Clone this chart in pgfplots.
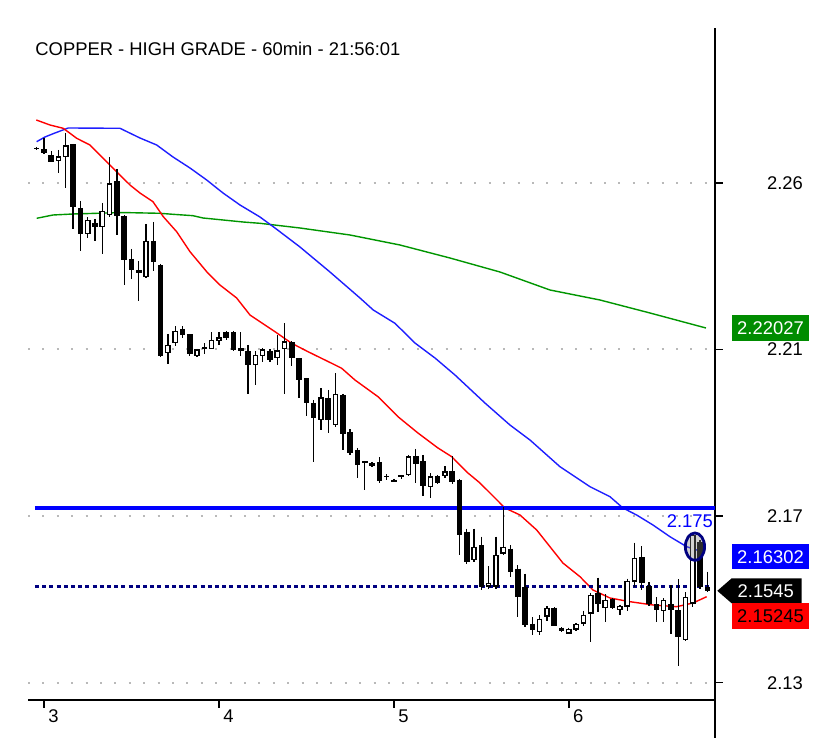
\documentclass[border=0pt]{standalone}
\usepackage{pgfplots}
\pgfplotsset{compat=1.18}
\usepackage{pgfplotstable}
\usepackage{fontspec}
\setmainfont{Liberation Sans}
\usetikzlibrary{backgrounds}
\definecolor{maRed}{RGB}{255,0,0}
\definecolor{maBlue}{RGB}{30,30,255}
\definecolor{maGreen}{RGB}{0,150,0}
\definecolor{boxGreen}{RGB}{0,140,0}
\definecolor{navyc}{RGB}{0,0,128}
\definecolor{lineBlue}{RGB}{0,0,255}
\definecolor{gridGray}{RGB}{185,185,185}

\pgfplotstableread{
i O H L C
0 2.26860 2.26886 2.26808 2.26821
1 2.26834 2.27120 2.26691 2.26717
2 2.26678 2.26782 2.26483 2.26496
3 2.26509 2.26808 2.26210 2.26639
4 2.26613 2.27250 2.25820 2.26925
5 2.26951 2.26964 2.24754 2.25313
6 2.25287 2.25482 2.24182 2.24624
7 2.24624 2.25053 2.24520 2.24988
8 2.24910 2.25014 2.24429 2.24793
9 2.24793 2.25430 2.24104 2.25222
10 2.25105 2.26613 2.25066 2.25937
11 2.25989 2.26314 2.24598 2.25079
12 2.25092 2.25105 2.23298 2.23948
13 2.23974 2.24234 2.23454 2.23688
14 2.23688 2.23922 2.22882 2.23597
15 2.23493 2.24884 2.23467 2.24442
16 2.24442 2.24936 2.23662 2.23883
17 2.23805 2.23844 2.21426 2.21439
18 2.21517 2.22024 2.21244 2.21738
19 2.21777 2.22219 2.21699 2.22102
20 2.22154 2.22219 2.21907 2.21985
21 2.22011 2.22024 2.21439 2.21491
22 2.21439 2.21634 2.21426 2.21621
23 2.21634 2.21777 2.21491 2.21686
24 2.21634 2.22063 2.21621 2.21868
25 2.21829 2.22063 2.21738 2.21933
26 2.22063 2.22102 2.21868 2.21907
27 2.22063 2.22102 2.21582 2.21595
28 2.21647 2.22063 2.21439 2.21582
29 2.21582 2.21738 2.20451 2.21205
30 2.21205 2.21569 2.20698 2.21478
31 2.21439 2.21660 2.21283 2.21621
32 2.21569 2.21621 2.21283 2.21335
33 2.21387 2.21998 2.21218 2.21595
34 2.21621 2.22297 2.20464 2.21829
35 2.21803 2.21829 2.21179 2.21387
36 2.21387 2.21400 2.20347 2.20828
37 2.20867 2.20880 2.19892 2.20217
38 2.20217 2.20308 2.18683 2.19827
39 2.19788 2.20607 2.19528 2.20373
40 2.20347 2.20568 2.19450 2.19788
41 2.19658 2.20997 2.19606 2.20464
42 2.20438 2.20464 2.19008 2.19424
43 2.19463 2.19541 2.18878 2.18917
44 2.19008 2.19060 2.18267 2.18618
45 2.18709 2.18722 2.17968 2.18657
46 2.18657 2.18696 2.18553 2.18592
47 2.18696 2.18813 2.18137 2.18189
48 2.18293 2.18371 2.18215 2.18319
49 2.18228 2.18254 2.18163 2.18176
50 2.18345 2.18358 2.18254 2.18306
51 2.18358 2.18878 2.18332 2.18839
52 2.18839 2.19034 2.18137 2.18644
53 2.18709 2.18878 2.17799 2.18059
54 2.18046 2.18397 2.17747 2.18319
55 2.18319 2.18358 2.18111 2.18150
56 2.18319 2.18579 2.18267 2.18449
57 2.18449 2.18839 2.18124 2.18176
58 2.18228 2.18254 2.16278 2.16798
59 2.16889 2.16967 2.16057 2.16109
60 2.16148 2.16967 2.16096 2.16499
61 2.16538 2.16759 2.15368 2.15459
62 2.15459 2.15992 2.15407 2.15563
63 2.15459 2.16759 2.15407 2.16278
64 2.16317 2.17526 2.16278 2.16499
65 2.16447 2.16538 2.15706 2.15849
66 2.15927 2.16018 2.14679 2.15199
67 2.15459 2.15797 2.14406 2.14458
68 2.14497 2.14666 2.14198 2.14328
69 2.14276 2.14718 2.14198 2.14627
70 2.14679 2.14952 2.14562 2.14913
71 2.14913 2.14926 2.14432 2.14445
72 2.14393 2.14406 2.14289 2.14302
73 2.14237 2.14393 2.14224 2.14367
74 2.14341 2.14510 2.14315 2.14484
75 2.14497 2.14835 2.14432 2.14731
76 2.14757 2.15303 2.14029 2.15238
77 2.15303 2.15693 2.14796 2.15004
78 2.14900 2.15264 2.14536 2.15108
79 2.15147 2.15173 2.14887 2.14913
80 2.14848 2.14991 2.14718 2.14952
81 2.14939 2.15667 2.14822 2.15615
82 2.15589 2.16603 2.15459 2.16213
83 2.16226 2.16512 2.15368 2.15550
84 2.15472 2.15576 2.14952 2.15004
85 2.15004 2.15186 2.14549 2.14861
86 2.14822 2.15160 2.14549 2.15108
87 2.15004 2.15498 2.14224 2.14861
88 2.14848 2.15654 2.13392 2.14159
89 2.14068 2.15316 2.14042 2.15186
90 2.15017 2.16850 2.14939 2.16798
91 2.16616 2.16668 2.15394 2.15446
92 2.15446 2.15849 2.15316 2.15355
}\candles

\begin{document}
\begin{tikzpicture}[font=\fontsize{9.2}{11}\selectfont]
\begin{axis}[
  scale only axis, width=343.5pt, height=336pt,
  xmin=-1.19, xmax=93.05, ymin=2.12508, ymax=2.2998,
  axis x line*=bottom, axis y line*=right,
  axis line style={black, line width=0.8pt},
  clip mode=individual,
  tick align=outside, major tick length=3.5pt,
  tick style={black, line width=0.7pt},
  xtick={1,25,49,73}, xticklabels={3,4,5,6},
  ytick={2.12958,2.17292,2.21621,2.2595}, yticklabels={2.13,2.17,2.21,2.26},
  tick label style={font=\fontsize{9.2}{11}\selectfont},
  xticklabel style={anchor=north west, inner sep=0pt, xshift=2pt, yshift=-1pt},
  yticklabel style={anchor=west, xshift=19pt},
  ymajorgrids, xmajorgrids=false,
  grid style={gridGray, line width=1pt, dash pattern=on 1pt off 6.2pt},
]
\coordinate (SW) at (rel axis cs:0,0);
\coordinate (NE) at (rel axis cs:1,1);

% moving averages
\addplot[maGreen, line width=0.7pt] coordinates {
(0,2.25032) (2.24,2.25118) (4.98,2.25144) (8.23,2.25162) (10.97,2.25178) (12.80,2.25178)
(16.91,2.25162) (18.70,2.25136) (21.44,2.25100) (22.81,2.25040) (25.56,2.24988) (28.30,2.24936)
(30.63,2.24902) (36.12,2.24780) (42.98,2.24598) (49.83,2.24338) (56.69,2.24000) (63.55,2.23636)
(70.41,2.23168) (77.27,2.22908) (84.13,2.22570) (91.81,2.22180)};
\addplot[maBlue, line width=0.7pt] coordinates {
(0,2.27024) (1.14,2.27146) (2.51,2.27250) (4.33,2.27380) (11.43,2.27372) (14.17,2.27120)
(16.46,2.26938) (18.70,2.26626) (21.03,2.26340) (23.32,2.26028) (25.56,2.25690) (27.89,2.25378)
(30.63,2.25066) (32.69,2.24780) (36.12,2.24286) (40.23,2.23636) (44.35,2.22960) (46.17,2.22648)
(49.15,2.22302) (51.89,2.21790) (54.64,2.21400) (57.38,2.20958) (61.49,2.20230) (64.92,2.19658)
(67.67,2.19268) (71.78,2.18574) (75.90,2.18054) (78.64,2.17794) (80.42,2.17500) (82.30,2.17318)
(84.54,2.17058) (86.87,2.16754) (89.16,2.16494) (90.99,2.16382)};
\addplot[maRed, line width=0.7pt] coordinates {
(-0.05,2.27588) (1.82,2.27458) (3.65,2.27372) (5.49,2.27112) (7.31,2.26938) (9.09,2.26600)
(10.97,2.26244) (12.80,2.25898) (14.17,2.25690) (15.95,2.25464) (17.37,2.25074) (19.20,2.24684)
(21.03,2.24164) (23.32,2.23644) (25.14,2.23298) (27.43,2.22960) (29.26,2.22518) (30.63,2.22344)
(32.69,2.22084) (34.98,2.21782) (37.22,2.21564) (40.47,2.21262) (41.84,2.21132) (43.66,2.20828)
(46.82,2.20394) (49.56,2.19874) (52.30,2.19450) (55.05,2.19060) (56.93,2.18834) (59.16,2.18410)
(60.81,2.18150) (62.46,2.17838) (64.24,2.17500) (66.30,2.17318) (68.59,2.16928) (70.41,2.16494)
(72.19,2.16070) (74.53,2.15714) (76.31,2.15368) (78.64,2.15160) (81.39,2.15064) (84.54,2.14978)
(87.79,2.14934) (90.03,2.15030) (91.91,2.15194)};

% horizontal levels
\addplot[lineBlue, line width=1.6pt] coordinates {(-0.23,2.175) (93.05,2.175)};
\addplot[navyc, line width=1.5pt, dash pattern=on 2pt off 1.6pt] coordinates {(-0.23,2.1545) (92.2,2.1545)};

% candles: wicks, bodies, hollow fills
\addplot[forget plot, draw=none, mark=none,
  error bars/.cd, y dir=minus, y explicit, error mark=none,
  error bar style={draw=black, line width=0.65pt}]
  table[x=i, y=H, y error expr=\thisrow{H}-\thisrow{L}] {\candles};
\addplot[forget plot, draw=none, mark=none,
  error bars/.cd, y dir=minus, y explicit, error mark=none,
  error bar style={draw=black, line width=2.8pt}]
  table[x=i, y expr={max(\thisrow{O},\thisrow{C})}, y error expr={abs(\thisrow{O}-\thisrow{C})}] {\candles};
\addplot[forget plot, draw=none, mark=none,
  restrict expr to domain={\thisrow{C}-\thisrow{O}}{0.0006:1},
  error bars/.cd, y dir=minus, y explicit, error mark=none,
  error bar style={draw=white, line width=1.4pt}]
  table[x=i, y expr={\thisrow{C}-0.00033}, y error expr={\thisrow{C}-\thisrow{O}-0.00066}] {\candles};

% highlight circle
\addplot[only marks, mark=*, mark size=4.8pt,
  mark options={yscale=1.43, draw=navyc, line width=1.4pt, fill=gray, fill opacity=0.35}]
  coordinates {(90.3,2.16494)};

% tick marks and the extension of the right-hand axis line
\pgfplotsinvokeforeach{1,25,49,73}{\draw[line width=0.8pt] (axis cs:#1,2.12508) -- ++(0pt,-4pt);}
\pgfplotsinvokeforeach{2.12958,2.17292,2.21621,2.2595}{\draw[line width=0.8pt] (axis cs:93.05,#1) -- ++(4pt,0pt);}
\draw[line width=0.8pt] (rel axis cs:1,0) -- ([yshift=-19pt]rel axis cs:1,0);

% title
\node[anchor=base west, inner sep=0pt] at (rel axis cs:0.0102,0.9598) {COPPER - HIGH GRADE - 60min - 21:56:01};

% level text
\node[text=lineBlue, anchor=east, inner sep=0pt] at (axis cs:92.81,2.17162) {2.175};

% right-hand value boxes
\node[fill=boxGreen, text=white, minimum width=38.8pt, minimum height=12.8pt, inner sep=0pt]
  at ([xshift=27.75pt]axis cs:93.05,2.22183) {2.22027};
\node[fill=lineBlue, text=white, minimum width=38.8pt, minimum height=12.8pt, inner sep=0pt]
  at ([xshift=27.75pt]axis cs:93.05,2.16234) {2.16302};
\fill[black] ([xshift=1.15pt]axis cs:93.05,2.15347) -- ++(7.2pt,6.25pt) -- ++(35pt,0pt)
  -- ++(0pt,-12.5pt) -- ++(-35pt,0pt) -- cycle;
\node[text=white, inner sep=0pt] at ([xshift=25.4pt]axis cs:93.05,2.15347) {2.1545};
\node[fill=maRed, text=black, minimum width=38.8pt, minimum height=12.8pt, inner sep=0pt]
  at ([xshift=27.75pt]axis cs:93.05,2.14697) {2.15245};
\end{axis}
\pgfresetboundingbox
\path[use as bounding box] ([shift={(-14pt,-19pt)}]SW) rectangle ([shift={(53.5pt,14pt)}]NE);
\begin{scope}[on background layer]
\fill[white] ([shift={(-14pt,-19pt)}]SW) rectangle ([shift={(53.5pt,14pt)}]NE);
\end{scope}
\end{tikzpicture}
\end{document}
